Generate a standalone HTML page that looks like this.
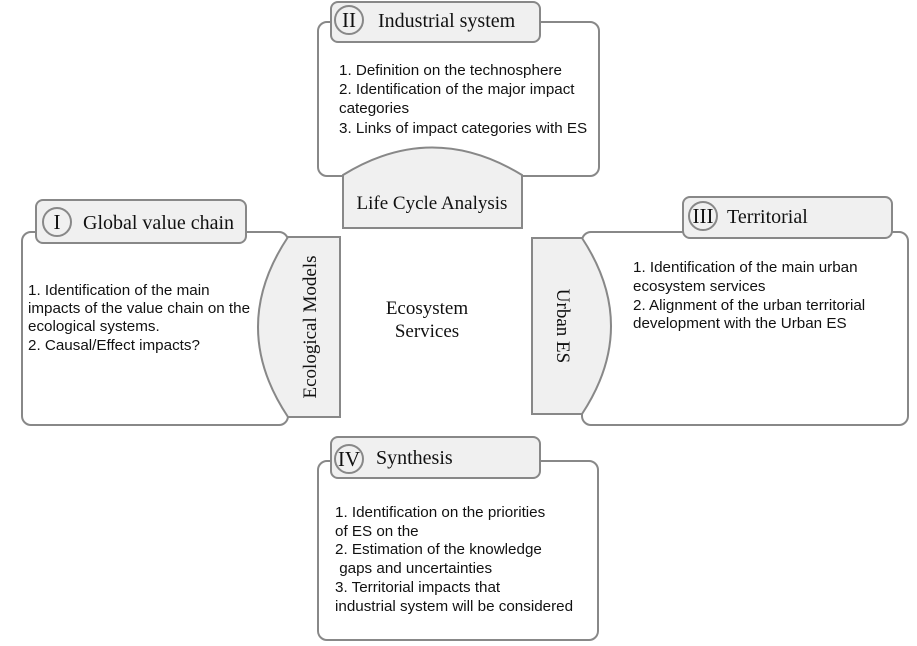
<!DOCTYPE html>
<html><head><style>body{margin:0;background:#fff}svg{display:block}
.s{font-family:"Liberation Sans",sans-serif;font-size:15.2px;fill:#111}
.r{font-family:"Liberation Serif",serif;fill:#111}
</style></head><body>
<svg width="917" height="646" viewBox="0 0 917 646">
<g fill="#fff" stroke="#888" stroke-width="2">
<rect x="318" y="22" width="281" height="154" rx="9"/>
<rect x="22" y="232" width="266" height="193" rx="9"/>
<rect x="582" y="232" width="326" height="193" rx="9"/>
<rect x="318" y="461" width="280" height="179" rx="9"/>
</g>
<g fill="#f0f0f0" stroke="#888" stroke-width="2">
<rect x="331" y="2" width="209" height="40" rx="7"/>
<rect x="36" y="200" width="210" height="43" rx="7"/>
<rect x="683" y="197" width="209" height="41" rx="7"/>
<rect x="331" y="437" width="209" height="41" rx="7"/>
<path d="M343 175 Q432 120 522 175 L522 228 L343 228 Z"/>
<path d="M288 237 Q228 327 288 417 L340 417 L340 237 Z"/>
<path d="M582 238 Q640 326 582 414 L532 414 L532 238 Z"/>
<circle cx="349" cy="20" r="14"/>
<circle cx="57" cy="222" r="14"/>
<circle cx="703" cy="216" r="14"/>
<circle cx="349" cy="459" r="14"/>
</g>
<g class="r" font-size="21" text-anchor="middle">
<text x="349" y="27">II</text><text x="57" y="229">I</text>
<text x="703" y="223">III</text><text x="349" y="466">IV</text>
</g>
<g class="r" font-size="20">
<text x="378" y="27">Industrial system</text>
<text x="83" y="229">Global value chain</text>
<text x="727" y="223">Territorial</text>
<text x="376" y="464">Synthesis</text>
</g>
<g class="r" font-size="19" text-anchor="middle">
<text x="432" y="209">Life Cycle Analysis</text>
<text x="427" y="314">Ecosystem</text>
<text x="427" y="337">Services</text>
<text transform="translate(316,327) rotate(-90)">Ecological Models</text>
<text transform="translate(557,326) rotate(90)">Urban ES</text>
</g>
<g class="s">
<text x="339" y="75">1. Definition on the technosphere</text>
<text x="339" y="94">2. Identification of the major impact</text>
<text x="339" y="113">categories</text>
<text x="339" y="133">3. Links of impact categories with ES</text>
<text x="28" y="295">1. Identification of the main</text>
<text x="28" y="313">impacts of the value chain on the</text>
<text x="28" y="331">ecological systems.</text>
<text x="28" y="350">2. Causal/Effect impacts?</text>
<text x="633" y="272">1. Identification of the main urban</text>
<text x="633" y="291">ecosystem services</text>
<text x="633" y="310">2. Alignment of the urban territorial</text>
<text x="633" y="328">development with the Urban ES</text>
<text x="335" y="517">1. Identification on the priorities</text>
<text x="335" y="536">of ES on the</text>
<text x="335" y="554">2. Estimation of the knowledge</text>
<text x="335" y="573" xml:space="preserve"> gaps and uncertainties</text>
<text x="335" y="592">3. Territorial impacts that</text>
<text x="335" y="611">industrial system will be considered</text>
</g>
</svg>
</body></html>
